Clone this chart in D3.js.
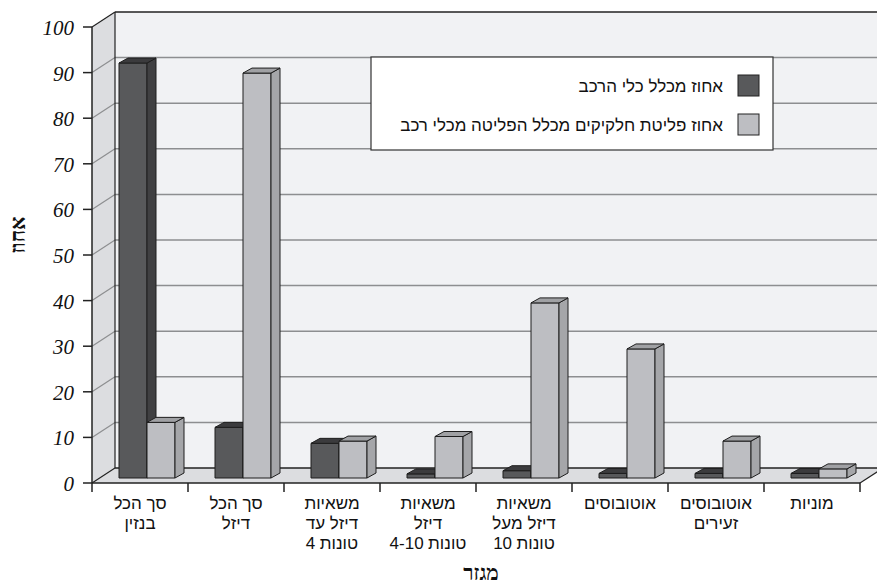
<!DOCTYPE html>
<html><head><meta charset="utf-8">
<script src="https://cdn.jsdelivr.net/npm/d3@7"></script>
<style>
body{margin:0;background:#fff}
.num{font-family:"Liberation Serif","Times New Roman","DejaVu Serif",serif;font-style:italic;font-size:21px;fill:#111}
.heb{font-family:"Liberation Sans",Arial,"DejaVu Sans",sans-serif;font-size:17px;fill:#111}
.ttl{font-family:"Liberation Serif","DejaVu Serif",serif;font-weight:bold;font-size:21px;fill:#111}
</style>
</head><body>
<svg id="chart" width="877" height="586"></svg>
<script>
const categories = [
  ["סך הכל","בנזין"],
  ["סך הכל","דיזל"],
  ["משאיות","דיזל עד","4 טונות"],
  ["משאיות","דיזל","4-10 טונות"],
  ["משאיות","דיזל מעל","10 טונות"],
  ["אוטובוסים"],
  ["אוטובוסים","זעירים"],
  ["מוניות"]
];
const seriesNames = ["אחוז מכלל כלי הרכב","אחוז פליטת חלקיקים מכלל הפליטה מכלי רכב"];
const vehicleShare = [91, 11.1, 7.6, 0.9, 1.6, 1, 1, 1];
const emissionShare = [12.2, 88.8, 8.1, 9.1, 38.4, 28.3, 8.1, 2];
const yTicks = [0,10,20,30,40,50,60,70,80,90,100];
const xTitle = "מגזר";
const yTitle = "אחוז";

const svg = d3.select("#chart");
const L = 92, R = 860, B = 483, T = 27;
const DX = 23, DY = 15;          // wall depth
const BX = 7, BY = 5;            // bar front-plane offset
const bdx = 9, bdy = 5;          // bar depth

const y = d3.scaleLinear().domain([0,100]).range([B,T]);
const x0 = d3.scaleBand().domain(d3.range(categories.length)).range([L,R]);
const x1 = d3.scaleBand().domain([0,1]).range([20,76]);

const series = [
  {name: seriesNames[0], values: vehicleShare, front:"#58595b", side:"#404042", top:"#3b3b3d"},
  {name: seriesNames[1], values: emissionShare, front:"#bdbec2", side:"#a5a6a9", top:"#a0a1a4"}
];

// back wall
svg.append("rect").attr("x", L+DX).attr("y", T-DY).attr("width", 877-(L+DX)+5).attr("height", B-T)
  .attr("fill","#f1f2f4");
// left wall
svg.append("polygon").attr("points", [[L,T],[L+DX,T-DY],[L+DX,B-DY],[L,B]].join(" "))
  .attr("fill","#dcdde0");
// floor
svg.append("polygon").attr("points", [[L,B],[R,B],[R+DX,B-DY],[L+DX,B-DY]].join(" "))
  .attr("fill","#dcdde0");

// gridlines
const grid = yTicks.filter(v => v > 0 && v < 100);
svg.selectAll(".gb").data(grid).enter().append("line")
  .attr("x1", L+DX).attr("x2", 877).attr("y1", d => y(d)-DY).attr("y2", d => y(d)-DY)
  .attr("stroke","#8d8e90").attr("stroke-width",1.5);
svg.selectAll(".gl").data(grid).enter().append("line")
  .attr("x1", L).attr("x2", L+DX).attr("y1", d => y(d)).attr("y2", d => y(d)-DY)
  .attr("stroke","#8d8e90").attr("stroke-width",1.2);

// frame lines
const frame = "#222";
svg.append("line").attr("x1", L+DX).attr("x2", 877).attr("y1", y(100)-DY).attr("y2", y(100)-DY).attr("stroke", frame).attr("stroke-width",1.5);
svg.append("line").attr("x1", L).attr("x2", L+DX).attr("y1", y(100)).attr("y2", y(100)-DY).attr("stroke", frame).attr("stroke-width",1.2);
svg.append("line").attr("x1", L+DX).attr("x2", L+DX).attr("y1", y(100)-DY).attr("y2", B-DY).attr("stroke", frame).attr("stroke-width",1.2);
svg.append("line").attr("x1", L+DX).attr("x2", 877).attr("y1", B-DY).attr("y2", B-DY).attr("stroke", frame).attr("stroke-width",1.5);
svg.append("line").attr("x1", L).attr("x2", L+DX).attr("y1", B).attr("y2", B-DY).attr("stroke", frame).attr("stroke-width",1.2);
svg.append("line").attr("x1", R).attr("x2", R+DX).attr("y1", B).attr("y2", B-DY).attr("stroke", frame).attr("stroke-width",1.2);

// bars
categories.forEach((c, i) => {
  series.forEach((s, k) => {
    const v = s.values[i];
    const xl = x0(i) + x1(k) + BX, w = x1.bandwidth();
    const yt = y(v) - BY, yb = y(0) - BY;
    const g = svg.append("g").attr("stroke","#1e1e1e").attr("stroke-width",1).attr("stroke-linejoin","round");
    g.append("rect").attr("x", xl).attr("y", yt).attr("width", w).attr("height", yb-yt).attr("fill", s.front);
    g.append("polygon").attr("points", [[xl+w,yt],[xl+w+bdx,yt-bdy],[xl+w+bdx,yb-bdy],[xl+w,yb]].join(" ")).attr("fill", s.side);
    g.append("polygon").attr("points", [[xl,yt],[xl+w,yt],[xl+w+bdx,yt-bdy],[xl+bdx,yt-bdy]].join(" ")).attr("fill", s.top);
  });
});

// axes
svg.append("line").attr("x1", L).attr("x2", L).attr("y1", T).attr("y2", B).attr("stroke", frame).attr("stroke-width",1.5);
svg.append("line").attr("x1", L).attr("x2", R).attr("y1", B).attr("y2", B).attr("stroke", frame).attr("stroke-width",1.5);
svg.selectAll(".yt").data(yTicks).enter().append("line")
  .attr("x1", L-9).attr("x2", L).attr("y1", d => y(d)).attr("y2", d => y(d)).attr("stroke", frame).attr("stroke-width",1.5);
svg.selectAll(".yl").data(yTicks).enter().append("text").attr("class","num")
  .attr("x", 74).attr("y", d => y(d)+8).attr("text-anchor","end").text(d => d);
const xEdges = d3.range(categories.length+1).map(i => i < categories.length ? x0(i) : R);
svg.selectAll(".xt").data(xEdges).enter().append("line")
  .attr("x1", d => d).attr("x2", d => d).attr("y1", B).attr("y2", B+9).attr("stroke", frame).attr("stroke-width",1.5);

categories.forEach((lines, i) => {
  const cx = x0(i) + x0.bandwidth()/2;
  lines.forEach((t, j) => {
    const yy = 509 + j*20;
    const m = t.match(/^([0-9\-]+) (.+)$/);
    if (m) {
      // number on the left, Hebrew word on the right (visual order as in source)
      const a = svg.append("text").attr("class","heb").attr("y", yy).attr("text-anchor","start").text(m[1]);
      const b = svg.append("text").attr("class","heb").attr("y", yy).attr("text-anchor","end").text(m[2]);
      const gap = 4.5;
      const wa = a.node().getComputedTextLength(), wb = b.node().getComputedTextLength();
      const tot = wa + gap + wb;
      a.attr("x", cx - tot/2);
      b.attr("x", cx + tot/2);
    } else {
      svg.append("text").attr("class","heb").attr("x", cx).attr("y", yy).attr("text-anchor","middle").text(t);
    }
  });
});

// axis titles
svg.append("text").attr("class","ttl").attr("x", 481).attr("y", 580).attr("text-anchor","middle").text(xTitle);
svg.append("text").attr("class","ttl").attr("transform","translate(25,235) rotate(-90)").attr("text-anchor","middle").text(yTitle);

// legend
svg.append("rect").attr("x",371).attr("y",57).attr("width",402).attr("height",93)
  .attr("fill","#fff").attr("stroke","#333").attr("stroke-width",1.2);
series.forEach((s, k) => {
  const yy = 75 + k*39;
  svg.append("rect").attr("x",738).attr("y",yy).attr("width",21).attr("height",21)
    .attr("fill", s.front).attr("stroke","#222").attr("stroke-width",1);
  svg.append("text").attr("class","heb").attr("x",723).attr("y",yy+17).attr("text-anchor","end").text(s.name);
});
</script>
</body></html>
